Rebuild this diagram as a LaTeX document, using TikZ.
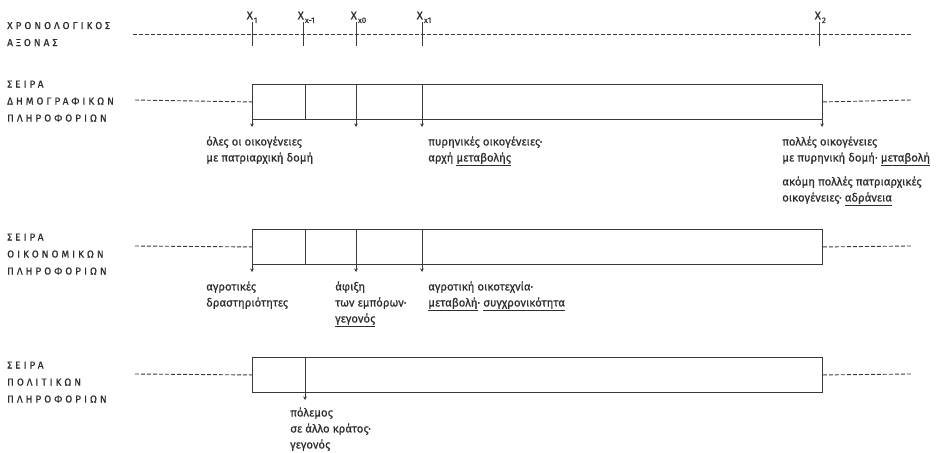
\documentclass[tikz,border=0pt]{standalone}
\usepackage{fontspec}
\setmainfont{Fira Sans}
\newfontfamily\hdrfont[LetterSpace=30,FakeBold=0.6]{Fira Sans}
\newfontfamily\annfont[FakeBold=0.6]{Fira Sans}
\usetikzlibrary{arrows.meta}
\definecolor{linec}{HTML}{3A3A3A}
\definecolor{txtc}{HTML}{2E2E2E}
\tikzset{
  serbox/.style={draw=linec, line width=0.9pt, minimum width=570pt, minimum height=35pt, inner sep=0pt, anchor=north west},
  dashline/.style={draw=linec, line width=0.9pt, dash pattern=on 4pt off 2pt},
  divline/.style={draw=linec, line width=0.8pt},
  tickline/.style={draw=linec, line width=1pt},
  arr/.style={draw=linec, line width=0.5pt, -{Stealth[length=3.5pt,width=3.5pt]}},
  hd/.style={anchor=base west, inner sep=0pt, text=txtc, font=\hdrfont\fontsize{10}{11}\selectfont},
  ann/.style={anchor=base west, inner sep=0pt, text=txtc, font=\annfont\fontsize{11.4}{12}\selectfont},
  xl/.style={anchor=base west, inner sep=0pt, text=txtc, font=\annfont\fontsize{11.5}{12}\selectfont}
}
\newcommand\sbs[1]{\kern1pt\raisebox{-3.5pt}{\fontsize{8}{8}\selectfont #1}}
\begin{document}
\begin{tikzpicture}[x=1pt,y=-1pt]
\useasboundingbox (0,0) rectangle (944,452);

% ---------- time axis ----------
\node[hd] (h1a) at (7,29) {ΧΡΟΝΟΛΟΓΙΚΟΣ};
\node[hd] (h1b) at (7,46) {ΑΞΟΝΑΣ};
\coordinate (tl0) at (133,34);
\coordinate (tl1) at (911,34);
\draw[dashline] (tl0) -- (tl1);
\foreach \x/\nm in {252/a,303.5/b,356.5/c,422/d,819.5/e}{
  \coordinate (tt\nm) at (\x,22);
  \coordinate (tb\nm) at (\x,46);
  \draw[tickline] (tt\nm) -- (tb\nm);
}
\node[xl] (x1) at (246.5,19.5) {X\sbs{1}};
\node[xl] (xa) at (297.5,19.5) {X\sbs{x-1}};
\node[xl] (xb) at (350.5,19.5) {X\sbs{x0}};
\node[xl] (xc) at (416.5,19.5) {X\sbs{x1}};
\node[xl] (x2) at (814.5,19.5) {X\sbs{2}};

% ---------- row 1 ----------
\node[hd] (h2a) at (7,87.5) {ΣΕΙΡΑ};
\node[hd] (h2b) at (7,104.5) {ΔΗΜΟΓΡΑΦΙΚΩΝ};
\node[hd] (h2c) at (7,121.5) {ΠΛΗΡΟΦΟΡΙΩΝ};
\node[serbox] (b1) at (252,84) {};
\coordinate (l1) at (135,100);
\coordinate (r1) at (911,100);
\draw[dashline] (l1) -- (b1.west);
\draw[dashline] (b1.east) -- (r1);
\foreach \x/\nm in {305/a,356/b,422/c}{
  \coordinate (d1t\nm) at (\x,84);
  \coordinate (d1b\nm) at (\x,119);
  \draw[divline] (d1t\nm) -- (d1b\nm);
}
\coordinate (a1s) at (252,119); \coordinate (a1e) at (252,127);
\coordinate (a2s) at (356,119); \coordinate (a2e) at (356,127);
\coordinate (a3s) at (422,119); \coordinate (a3e) at (422,127);
\coordinate (a4s) at (822,119); \coordinate (a4e) at (822,127);
\draw[arr] (a1s) -- (a1e);
\draw[arr] (a2s) -- (a2e);
\draw[arr] (a3s) -- (a3e);
\draw[arr] (a4s) -- (a4e);
\node[ann] (t1a) at (206,145.5) {όλες οι οικογένειες};
\node[ann] (t1b) at (206,161.5) {με πατριαρχική δομή};
\node[ann] (t2a) at (428,145.5) {πυρηνικές οικογένειες·};
\node[ann] (t2b) at (428,161.5) {αρχή \underline{μεταβολής}};
\node[ann] (t3a) at (782,145.5) {πολλές οικογένειες};
\node[ann] (t3b) at (782,161.5) {με πυρηνική δομή· \underline{μεταβολή}};
\node[ann] (t3c) at (782,185.5) {ακόμη πολλές πατριαρχικές};
\node[ann] (t3d) at (782,201.5) {οικογένειες· \underline{αδράνεια}};

% ---------- row 2 ----------
\node[hd] (h3a) at (7,240.5) {ΣΕΙΡΑ};
\node[hd] (h3b) at (7,257.5) {ΟΙΚΟΝΟΜΙΚΩΝ};
\node[hd] (h3c) at (7,274.5) {ΠΛΗΡΟΦΟΡΙΩΝ};
\node[serbox] (b2) at (252,229) {};
\coordinate (l2) at (135,246);
\coordinate (r2) at (911,246);
\draw[dashline] (l2) -- (b2.west);
\draw[dashline] (b2.east) -- (r2);
\foreach \x/\nm in {305/a,356/b,422/c}{
  \coordinate (d2t\nm) at (\x,229);
  \coordinate (d2b\nm) at (\x,264);
  \draw[divline] (d2t\nm) -- (d2b\nm);
}
\coordinate (c1s) at (252,264); \coordinate (c1e) at (252,272);
\coordinate (c2s) at (356,264); \coordinate (c2e) at (356,272);
\coordinate (c3s) at (422,264); \coordinate (c3e) at (422,272);
\draw[arr] (c1s) -- (c1e);
\draw[arr] (c2s) -- (c2e);
\draw[arr] (c3s) -- (c3e);
\node[ann] (u1a) at (206,290.5) {αγροτικές};
\node[ann] (u1b) at (206,306.5) {δραστηριότητες};
\node[ann] (u2a) at (335,290.5) {άφιξη};
\node[ann] (u2b) at (335,306.5) {των εμπόρων·};
\node[ann] (u2c) at (335,322.5) {\underline{γεγονός}};
\node[ann] (u3a) at (428,290.5) {αγροτική οικοτεχνία·};
\node[ann] (u3b) at (428,306.5) {\underline{μεταβολή}· \underline{συγχρονικότητα}};

% ---------- row 3 ----------
\node[hd] (h4a) at (7,368.5) {ΣΕΙΡΑ};
\node[hd] (h4b) at (7,385.5) {ΠΟΛΙΤΙΚΩΝ};
\node[hd] (h4c) at (7,402.5) {ΠΛΗΡΟΦΟΡΙΩΝ};
\node[serbox] (b3) at (252,357) {};
\coordinate (l3) at (135,374);
\coordinate (r3) at (911,374);
\draw[dashline] (l3) -- (b3.west);
\draw[dashline] (b3.east) -- (r3);
\coordinate (d3t) at (305,357);
\coordinate (e1e) at (305,400);
\draw[arr] (d3t) -- (e1e);
\node[ann] (v1a) at (290,416.5) {πόλεμος};
\node[ann] (v1b) at (290,432.5) {σε άλλο κράτος·};
\node[ann] (v1c) at (290,448.5) {γεγονός};
\end{tikzpicture}
\end{document}
